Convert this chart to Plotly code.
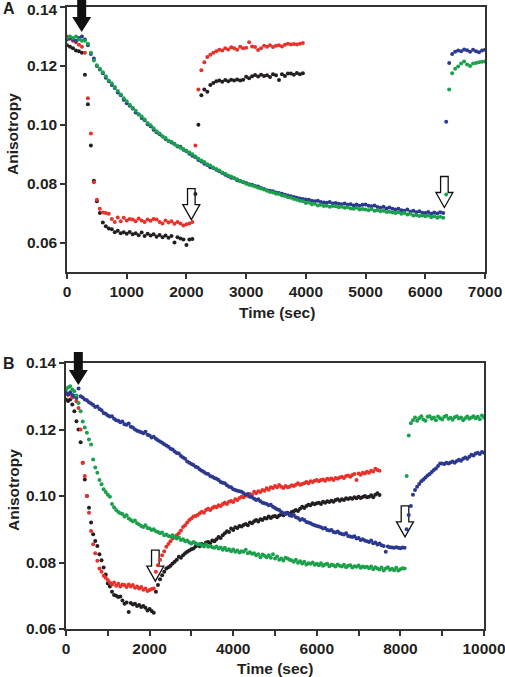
import numpy as np
import plotly.graph_objects as go

# ---------------- DATA (anisotropy in units of 1e-3) ----------------
A_STEP = 50   # sampling interval (sec) panel A
B_STEP = 50   # sampling interval (sec) panel B

a_red = [130, 129.2, 128.5, 128, 127.2, 126.5, 124.5, 109, 97, 80.5,
         74.5, 71.5, 70.2, 70, 69.8, 68, 67, 68.5, 67.2, 68.4,
         67.5, 68, 67.8, 67.2, 68.2, 67.5, 67, 67.8, 67.4, 68,
         67.8, 67, 66.5, 67.5, 66.8, 67.2, 66.4, 67, 66.5, 65.8,
         66.2, 66.5, 67, 93, 112, 118.5, 121.2, 123, 123.8, 124.5,
         125, 125.5, 125.2, 126, 125.6, 126.3, 126, 125.5, 126.5, 126,
         126.2, 128, 126.6, 126.4, 125.4, 126, 126.8, 126.5, 127, 126.4,
         126.8, 127, 126.6, 127.2, 127.5, 127.3, 127.4, 127.3, 127.5, 127.8]

a_black = [127, 126.5, 126, 125.2, 125, 124.5, 117, 107, 93, 81,
           74, 70, 66.8, 65.5, 64.8, 64.5, 63.5, 64, 63.2, 63.5,
           63, 63.6, 62.8, 63.2, 62.5, 63.4, 62.2, 63, 62.4, 62.8,
           62, 62.6, 61.8, 62.4, 61.6, 62.2, 60, 61.8, 61.4, 61,
           59.2, 61, 61.2, 76.5, 100, 110, 112, 111.2, 113.5, 114.2,
           114.8, 115, 114.6, 115.2, 114.8, 115.3, 115, 115.4, 115, 115.3,
           116.3, 115.8, 116.5, 116.9, 116.4, 117, 116.6, 116.8, 116.2, 117.2,
           116.8, 115.2, 117.2, 116.6, 117.4, 117.4, 117, 117.6, 117.2, 117.5]

a_blue = [129, 129.5, 129, 128.5, 129.5, 130, 129, 127, 124, 122.5,
          120, 118.8, 117.5, 116, 114.8, 113.5, 112.5, 111, 110, 108.5,
          107.3, 106.5, 105.5, 104.2, 103.5, 102.3, 101.5, 100.2, 99.5, 98.3,
          97.5, 96.8, 96, 95.2, 94.5, 94, 93.5, 92.6, 92.5, 91.5,
          91, 90.2, 89.5, 89, 88, 87.5, 86.8, 86.3, 85.6, 85.3,
          84.7, 84.2, 83.6, 83, 82.5, 82, 81.8, 81.2, 80.9, 80.5,
          80.2, 79.8, 79.6, 79.2, 79, 78.5, 78.2, 77.8, 77.6, 77.4,
          77, 76.8, 76.6, 76.2, 76, 75.7, 75.5, 75.2, 75, 74.8,
          74.6, 74.5, 74.2, 74, 74.2, 73.8, 73.6, 73.5, 73.8, 73.3,
          73.4, 73.2, 73, 73.3, 72.8, 73, 72.6, 72.9, 72.5, 72.8,
          72.9, 72.5, 72.3, 72.6, 72.1, 71.8, 72.2, 71.6, 71.9, 71.5,
          71.2, 71.5, 71, 70.8, 71.2, 70.5, 70.8, 70.3, 70.6, 70.1,
          70, 70.4, 69.8, 70.2, 69.9, 70.3, 70, 101, 121, 124,
          124.8, 125.2, 125, 125.6, 125.3, 124.8, 125.5, 125, 124.6, 125.2,
          125.5]

a_green = [129.5, 130, 129.5, 130, 129, 128.5, 128.5, 127.5, 124.5, 121.8,
           120.2, 119, 117.8, 116.5, 115, 114, 112.8, 111.5, 110.3, 109,
           108, 106.8, 105.8, 104.8, 103.6, 102.8, 101.8, 100.6, 99.8, 98.8,
           97.8, 97, 96, 95.5, 94.6, 94.2, 93.4, 92.8, 92.2, 91.8,
           91.2, 90.6, 90, 89.2, 88.5, 87.9, 87.4, 86.6, 86.2, 85.5,
           85, 84.5, 83.8, 83.4, 82.8, 82.4, 81.8, 81.5, 80.8, 80.6,
           80, 79.6, 79.4, 79, 78.6, 78.4, 78, 77.6, 77.2, 77,
           76.6, 76.5, 76, 75.8, 75.4, 75.2, 74.8, 74.5, 74.2, 74,
           73.4, 73.6, 73, 73.2, 72.6, 72.8, 72.4, 72.5, 72.2, 72.4,
           72.3, 72, 72.2, 71.8, 72, 71.6, 71.5, 71.8, 71.2, 71.4,
           71.2, 71, 71.4, 70.8, 71, 70.6, 70.8, 70.4, 70.5, 70.2,
           70, 70.3, 69.8, 70, 69.5, 69.8, 69.2, 69.4, 69, 69.2,
           68.9, 69.2, 68.6, 68.9, 68.4, 68.8, 68.4, 76.3, 112, 117.5,
           119, 119.8, 120.8, 121.5, 120.5, 120, 120.8, 121, 121.2, 121.4,
           121.5]

b_red = [131, 130.4, 130.8, 129.6, 130, 128.5, 126.5, 120, 110, 106, 100, 95,
         89.5, 85.5, 82.8, 80.5, 78.2, 77.2, 76, 75.4, 74.7, 74, 73.4, 74,
         73, 73.6, 72.8, 73.4, 73.2, 72.6, 73.4, 72.8, 73.2, 72.4, 72.8, 72.2,
         72.6, 71.8, 72.2, 71.4, 71.7, 72, 72.2, 77.2, 79.2, 80.8, 82.2, 83.4,
         84.7, 85.6, 86.4, 87.2, 87.6, 88.2, 88.8, 89.6, 90.7, 91.2, 92, 92.8,
         93.2, 93.8, 94, 94.3, 94.8, 95.3, 95, 95.8, 96.2, 95.8, 96.4, 96.8,
         96.6, 97.2, 97, 97.6, 98, 97.6, 98.3, 98.5, 98.2, 99, 98.8, 99.4,
         99.8, 99.6, 100.2, 100, 100.6, 100.4, 101.3, 100.8, 101.4, 101.2, 101.8, 101.6,
         102.3, 101.9, 102.6, 102.4, 103, 102.6, 103.3, 102.8, 102.4, 103, 102.6, 102.8,
         103.2, 103, 103.4, 103.8, 103.4, 103.6, 103.8, 104.2, 103.8, 104.4, 104.2, 104.6,
         104.8, 104.4, 104.8, 105, 104.6, 105.2, 105, 105.3, 104.8, 105.4, 105.2, 105.6,
         105.8, 105.4, 106, 106.2, 105.8, 106.3, 106.6, 104.8, 106.8, 106.4, 107, 106.8,
         107.3, 107, 107.6, 107.4, 108.2, 107.8, 107.6]

b_black = [129, 128.6, 129, 127.5, 125.5, 122.5, 120, 116.2, 110, 105, 100, 96.5,
           92, 88.5, 86.5, 85, 82.5, 80.7, 78.5, 76.4, 73.7, 72.8, 71.2, 70.2,
           70, 69.6, 69.8, 68.6, 67.6, 68, 65.1, 67.8, 67.4, 67.6, 66.9, 67.2,
           66.6, 66.9, 66.4, 65.6, 66, 65.4, 64.9, 71.2, 73.2, 75, 76.2, 77.2,
           78.2, 78.6, 79, 79.7, 80.2, 80.8, 81.7, 81.4, 82.2, 82.8, 83.2, 83.6,
           84, 84.2, 84.8, 85.2, 84.9, 85.6, 85.3, 86, 86.2, 85.8, 86.6, 86.4,
           87, 87.7, 87.4, 88.2, 88.8, 89.4, 89.2, 90.2, 89.8, 90.6, 90.4, 91,
           90.8, 91.3, 91.6, 91.2, 92, 91.8, 92.4, 92.8, 92.3, 93, 92.8, 93.4,
           93.2, 93.8, 93.4, 93.8, 94, 93.6, 94.1, 94.5, 94.2, 94.8, 95, 94.6,
           95.2, 95.4, 95.8, 95.5, 96.2, 96.8, 96.4, 97, 97.4, 97.2, 97.8, 97.5,
           97.8, 98, 97.6, 98.3, 98, 98.4, 98.2, 98.6, 98.3, 98.8, 99, 98.6,
           99, 98.8, 99.3, 99.1, 99.4, 99.2, 99.6, 99.3, 99.8, 99.4, 99.7, 100,
           99.6, 99.8, 100.2, 99.6, 100.4, 100.8, 100.3]

b_blue = [131, 130.6, 131.2, 130.4, 130, 129.5, 132.3, 130, 129.6, 129, 128.8, 128.2,
          127.8, 127.4, 126.8, 126.9, 126.2, 125.8, 125, 124.7, 124.2, 123.9, 124, 123.2,
          122.8, 122.6, 122.2, 122.4, 121.6, 121.4, 121.8, 120.8, 120.6, 120, 119.6, 119.4,
          119.2, 118.9, 119.3, 118.4, 118.2, 117.6, 117.8, 117.2, 116.8, 116.4, 116, 115.6,
          115.2, 114.8, 114.2, 114, 113.4, 112.9, 112.8, 112, 111.6, 111.2, 110.4, 110,
          109.6, 109.3, 108.8, 108.6, 108, 107.6, 107.2, 106.8, 106.6, 106, 105.8, 105.4,
          105.2, 104.8, 104.2, 104, 103.8, 103.2, 102.8, 102.6, 102, 101.8, 101.6, 101.4,
          101.3, 100.8, 100.4, 100.6, 99.8, 99.6, 99.2, 98.8, 99, 98.4, 98, 97.8,
          97.6, 97.2, 97.4, 96.8, 96.4, 96, 95.8, 95.2, 94.8, 94.6, 94.8, 94.2,
          94, 94.3, 93.6, 93.4, 92.8, 93.1, 92.8, 92.2, 92, 91.8, 91.4, 91.2,
          91, 90.8, 90.6, 90.2, 90.4, 89.8, 89.6, 89.8, 89.2, 89, 89.3, 88.8,
          88.6, 88.4, 88.8, 88, 87.8, 87.7, 87.9, 87.2, 87.4, 86.8, 87, 86.6,
          86.4, 86.2, 86.6, 85.8, 86, 85.4, 85.7, 85.2, 85, 83.2, 84.8, 84.6,
          84.5, 84.4, 84.6, 84.4, 84.3, 84.5, 84.4, 90, 94.3, 97, 100.4, 101.8,
          102.8, 103.6, 104.4, 105, 105.6, 106.2, 106.6, 107.2, 107.8, 108.3, 109, 109.8,
          109.8, 109.6, 110, 109.8, 110.1, 110.4, 110, 110.5, 110.9, 110.6, 111.2, 111.6,
          111.2, 111.8, 112.4, 112.2, 112.8, 113, 112.6, 113.2, 113]

b_green = [132, 132.6, 133, 132, 131.5, 130.2, 128, 125.5, 122.4, 120.6, 119, 117,
           115.5, 111, 108.6, 107, 104.8, 103.5, 102, 101.2, 100.4, 99.8, 97.6, 96.6,
           95.8, 95.2, 94.8, 94.6, 93.8, 94.2, 93.2, 92.8, 92.3, 92.6, 91.8, 91.4,
           91, 90.7, 91.2, 90.4, 90.2, 89.8, 90, 89.4, 89.2, 88.8, 89, 88.2,
           88.4, 88, 87.8, 88.2, 87.6, 87.2, 87.5, 86.8, 87, 86.4, 86.6, 86,
           85.7, 86.2, 85.8, 85.4, 85.6, 85.2, 84.8, 85.4, 84.7, 85, 84.6, 84.4,
           84.8, 84.2, 84.5, 83.8, 84.4, 83.7, 84, 83.4, 83.9, 83.2, 83.6, 83,
           83.4, 83.2, 83.8, 82.8, 83.1, 82.6, 82.8, 82.2, 82.5, 81.6, 82.4, 82,
           81.6, 82.2, 81.4, 82.5, 81.2, 81.8, 80.8, 81.2, 80.6, 81.4, 81.2, 80.8,
           80.6, 80.2, 80.8, 79.9, 80.4, 79.7, 80.2, 79.4, 79.8, 79.6, 80, 79.3,
           79.6, 79.2, 79.8, 79, 79.4, 79.6, 78.9, 79.3, 79.2, 78.8, 79.4, 79,
           78.8, 79.3, 78.6, 79, 79.2, 78.5, 78.9, 78.7, 79.1, 78.4, 78.8, 78.6,
           78.7, 78.3, 78.8, 78, 78.6, 78.2, 77.9, 78.5, 77.6, 78.2, 78.6, 77.8,
           78.1, 77.7, 78.4, 77.6, 78, 78.3, 78.2, 106, 118.2, 121.9, 122.8, 123.6,
           122.6, 123.4, 124, 123, 122.6, 123.8, 124, 123.2, 123.6, 122.8, 123.9, 123.4,
           123, 123.8, 124.1, 123.2, 123.5, 122.9, 123.7, 124, 123.3, 123.6, 122.8, 123.4,
           123.9, 123.2, 123.6, 124, 123.4, 123.8, 123.1, 124.2, 123.6]

# arrows: (time, anisotropy at tip)
a_solid_arrow = (246, 0.1315)
a_open_arrows = [(2082, 0.0678), (6320, 0.0719)]
b_solid_arrow = (295, 0.1334)
b_open_arrows = [(2137, 0.0744), (8110, 0.0877)]

# ticks
a_xticks = [0, 1000, 2000, 3000, 4000, 5000, 6000, 7000]
a_yticks = [0.06, 0.08, 0.10, 0.12, 0.14]
a_ytext = ['0.06', '0.08', '0.10', '0.12', '']   # top label placed as annotation
a_ytop_label = '0.14'
b_xticks = [0, 2000, 4000, 6000, 8000, 10000]
b_yticks = [0.06, 0.08, 0.10, 0.12, 0.14]

# ---------------- STYLE ----------------
COL = {'red': '#e8312a', 'black': '#231f20', 'blue': '#2b3990', 'green': '#1ba14b'}
W, H = 505, 677
A_X = [67 / W, 485 / W]
A_Y = [1 - 272 / H, 1 - 7 / H]
B_X = [66 / W, 484 / W]
B_Y = [1 - 629 / H, 1 - 363 / H]
A_YR = [0.05, 0.14]
B_YR = [0.06, 0.14]
FONT = 'Liberation Sans, Arial, sans-serif'
AX = '#333333'
FS = 15.5


def series(vals, step):
    t = np.arange(len(vals)) * step
    return t, np.array(vals) / 1000.0


fig = go.Figure()
for name, vals, xa, ya, step in [
    ('black', a_black, 'x', 'y', A_STEP), ('red', a_red, 'x', 'y', A_STEP),
    ('blue', a_blue, 'x', 'y', A_STEP), ('green', a_green, 'x', 'y', A_STEP),
    ('black', b_black, 'x2', 'y2', B_STEP), ('red', b_red, 'x2', 'y2', B_STEP),
    ('blue', b_blue, 'x2', 'y2', B_STEP), ('green', b_green, 'x2', 'y2', B_STEP)]:
    t, v = series(vals, step)
    fig.add_trace(go.Scatter(x=t, y=v, mode='markers', xaxis=xa, yaxis=ya,
                             marker=dict(size=4, color=COL[name], line=dict(width=0)),
                             showlegend=False, hoverinfo='skip'))

axis_common = dict(showline=True, linecolor=AX, linewidth=1.5, mirror=True,
                   ticks='outside', ticklen=5, tickwidth=1.5, tickcolor=AX,
                   showgrid=False, zeroline=False, automargin=False,
                   ticklabeloverflow='allow',
                   tickfont=dict(family=FONT, size=FS, color='#231f20', weight='bold'))

fig.update_layout(
    template='none',
    width=W, height=H, margin=dict(l=0, r=0, t=0, b=0, autoexpand=False),
    paper_bgcolor='white', plot_bgcolor='white', showlegend=False,
    xaxis=dict(domain=A_X, anchor='y', range=[0, 7000], tickvals=a_xticks,
               tickformat='d', **axis_common),
    yaxis=dict(domain=A_Y, anchor='x', range=A_YR, tickvals=a_yticks,
               ticktext=a_ytext, **axis_common),
    xaxis2=dict(domain=B_X, anchor='y2', range=[0, 10000], tickvals=b_xticks,
                tickformat='d',
                minor=dict(dtick=1000, ticklen=5, tickwidth=1.5, tickcolor=AX, ticks='outside'),
                **axis_common),
    yaxis2=dict(domain=B_Y, anchor='x2', range=B_YR, tickvals=b_yticks,
                tickformat='.2f', **axis_common),
)


def vpaper(v, rng, dom):
    return dom[0] + (v - rng[0]) / (rng[1] - rng[0]) * (dom[1] - dom[0])


SOLID = 'M0,0 L-9.5,15 L-4.5,15 L-4.5,33 L4.5,33 L4.5,15 L9.5,15 Z'
OPEN = 'M0,0 L-8.5,15 L-3.8,15 L-3.8,31 L3.8,31 L3.8,15 L8.5,15 Z'


def add_arrow(t, v, xref, rng, dom, solid):
    fig.add_shape(type='path', xref=xref, yref='paper', xsizemode='pixel',
                  ysizemode='pixel', xanchor=t, yanchor=vpaper(v, rng, dom),
                  path=SOLID if solid else OPEN,
                  fillcolor='#111111' if solid else 'white',
                  line=dict(color='#111111', width=0 if solid else 1.3),
                  layer='above' if solid else 'below')


add_arrow(*a_solid_arrow, 'x', A_YR, A_Y, True)
for t, v in a_open_arrows:
    add_arrow(t, v, 'x', A_YR, A_Y, False)
add_arrow(*b_solid_arrow, 'x2', B_YR, B_Y, True)
for t, v in b_open_arrows:
    add_arrow(t, v, 'x2', B_YR, B_Y, False)


def label(text, x, y, size=FS, angle=0, xanchor='center', yanchor='middle', bold=True):
    fig.add_annotation(text=('<b>%s</b>' % text) if bold else text,
                       x=x / W, y=1 - y / H, xref='paper', yref='paper',
                       showarrow=False, textangle=angle, xanchor=xanchor, yanchor=yanchor,
                       borderpad=0, font=dict(family=FONT, size=size, color='#231f20'))


label('A', 9, 8, 16)
label('B', 9, 363, 16)
label('Anisotropy', 13, 134, FS, -90)
label('Anisotropy', 13, 490, FS, -90)
label('Time (sec)', 277, 313, FS)
label('Time (sec)', 275, 668, FS)
label(a_ytop_label, 59, 0, FS, 0, 'right', 'top')

fig.write_html('out.html', config={'displayModeBar': False},
               post_script="document.body.style.margin='0';document.body.style.padding='0';")
